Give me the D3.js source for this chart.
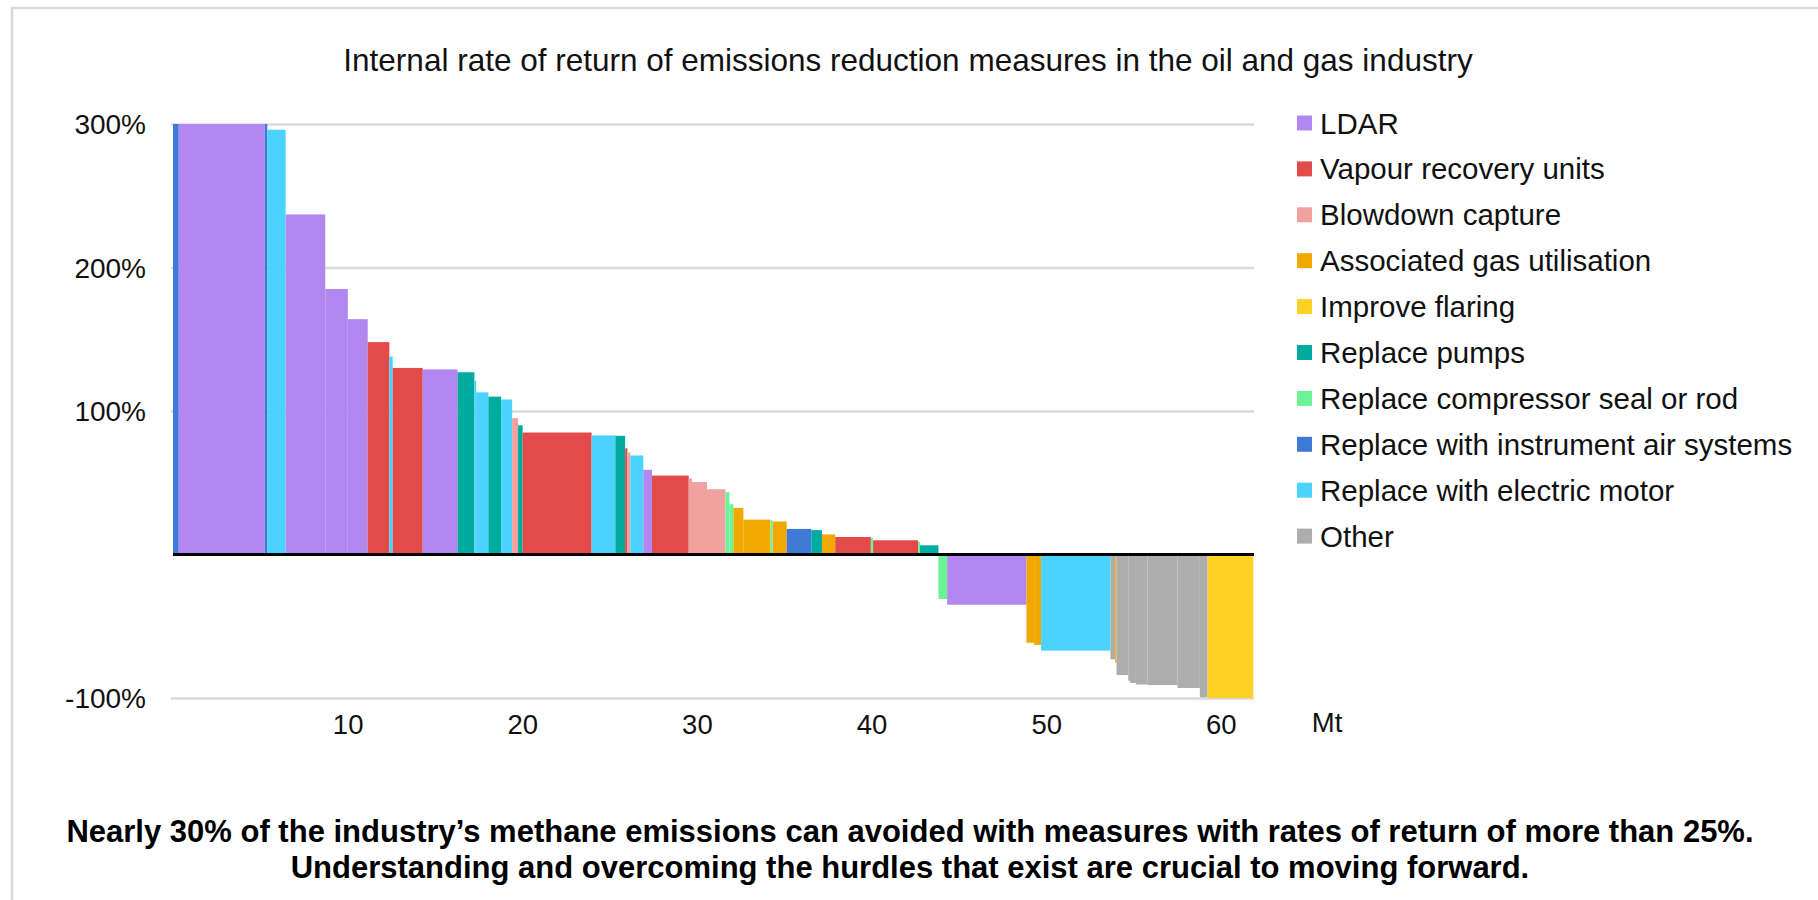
<!DOCTYPE html>
<html>
<head>
<meta charset="utf-8">
<script src="https://cdn.jsdelivr.net/npm/d3@7"></script>
<style>
  body { margin: 0; background: #fff; }
  svg { display: block; font-family: "Liberation Sans", Arial, sans-serif; }
</style>
</head>
<body>
<svg id="chart"></svg>
<script>
const categories = [
  "LDAR",
  "Vapour recovery units",
  "Blowdown capture",
  "Associated gas utilisation",
  "Improve flaring",
  "Replace pumps",
  "Replace compressor seal or rod",
  "Replace with instrument air systems",
  "Replace with electric motor",
  "Other"
];
const colors = ["#b287ef", "#e34a4a", "#f1a19f", "#f1a800", "#fdd225", "#00aba0", "#6cf395", "#3f7bd6", "#4ad3fe", "#adadad"];

// measure category (index into categories), abatement in Mt, internal rate of return in %
const measureCat = [7, 0, 7, 8, 0, 0, 0, 1, 8, 1, 0, 5, 8, 8, 5, 8, 2, 5, 1, 8,
  5, 1, 2, 8, 0, 1, 2, 2, 2, 6, 6, 3, 3, 6, 3, 7, 5, 3, 1, 6,
  1, 6, 5, 6, 0, 3, 3, 8, 9, 3, 9, 9, 9, 9, 9, 9, 9, 4];
const measureMt = [0.33, 4.92, 0.15, 1.05, 2.27, 1.29, 1.14, 1.24, 0.19, 1.72, 2.0, 0.96, 0.1, 0.70, 0.73, 0.63, 0.34, 0.26, 3.95, 1.36,
  0.56, 0.13, 0.17, 0.74, 0.50, 2.10, 0.19, 0.86, 1.05, 0.23, 0.23, 0.57, 1.55, 0.13, 0.80, 1.41, 0.61, 0.76, 2.04, 0.13,
  2.58, 0.1, 1.06, 0.50, 4.54, 0.44, 0.40, 3.97, 0.27, 0.08, 0.67, 0.1, 0.34, 0.66, 1.72, 1.28, 0.44, 2.62];
const measureIrr = [300, 300, 300, 296, 237, 185, 164, 148, 138, 130, 129, 127, 121, 113, 110, 108, 95, 90, 85, 83,
  82.7, 74, 71, 69, 59, 55, 53, 50.5, 45.5, 43.5, 35, 32.5, 24.3, 23.8, 23, 17.8, 17, 14, 12.2, 11.5,
  9.9, 8.9, 6.4, -31, -35, -61.5, -63, -67, -73, -75.5, -84, -88, -89.5, -90.6, -91, -93, -99.5, -100];

const yTicks = [300, 200, 100, -100];
const xTicks = [10, 20, 30, 40, 50, 60];

const width = 1818;
const height = 900;
const plotLeft = 173, plotRight = 1254, plotTop = 124, plotBottom = 698;

const svg = d3.select("#chart")
  .attr("width", width)
  .attr("height", height);

// frame
svg.append("path")
  .attr("d", `M12,${height} L12,8 L${width},8`)
  .attr("fill", "none")
  .attr("stroke", "#d9d9d9")
  .attr("stroke-width", 2.5);

const xScale = d3.scaleLinear()
  .domain([0, 61.9])
  .range([plotLeft, plotRight]);

const yScale = d3.scaleLinear()
  .domain([-100, 300])
  .range([plotBottom, plotTop]);

// build stepped bars from cumulative abatement
let acc = 0;
const bars = measureMt.map((w, i) => {
  const d = { x0: acc, x1: acc + w, v: measureIrr[i], c: measureCat[i] };
  acc += w;
  return d;
});

svg.append("text")
  .attr("x", 908)
  .attr("y", 60)
  .attr("text-anchor", "middle")
  .attr("dominant-baseline", "central")
  .style("font-size", "31.5px")
  .attr("fill", "#111")
  .text("Internal rate of return of emissions reduction measures in the oil and gas industry");

const yAxis = d3.axisLeft(yScale)
  .tickValues(yTicks)
  .tickSize(-(plotRight - plotLeft))
  .tickFormat(d => d + "%");

const gy = svg.append("g")
  .attr("transform", `translate(${plotLeft}, 0)`)
  .call(yAxis);
gy.select(".domain").remove();
gy.selectAll(".tick line")
  .attr("stroke", "#d9d9d9")
  .attr("stroke-width", 2.5)
  .attr("x1", -2);
gy.selectAll(".tick text")
  .attr("x", -27)
  .attr("dy", null)
  .attr("dominant-baseline", "central")
  .attr("fill", "#111")
  .style("font-size", "28px")
  .style("font-family", "'Liberation Sans', Arial, sans-serif");

svg.append("g")
  .selectAll("rect")
  .data(bars)
  .enter()
  .append("rect")
  .attr("x", d => xScale(d.x0))
  .attr("width", d => xScale(d.x1) - xScale(d.x0))
  .attr("y", d => yScale(Math.max(0, d.v)))
  .attr("height", d => Math.abs(yScale(d.v) - yScale(0)))
  .attr("fill", d => colors[d.c]);

svg.append("line")
  .attr("x1", plotLeft)
  .attr("x2", plotRight)
  .attr("y1", yScale(0))
  .attr("y2", yScale(0))
  .attr("stroke", "#000")
  .attr("stroke-width", 3);

const xAxis = d3.axisBottom(xScale)
  .tickValues(xTicks)
  .tickSize(0)
  .tickPadding(0);

const gx = svg.append("g")
  .attr("transform", `translate(0, 724)`)
  .call(xAxis);
gx.select(".domain").remove();
gx.selectAll(".tick text")
  .attr("y", 0)
  .attr("dy", null)
  .attr("dominant-baseline", "central")
  .attr("fill", "#111")
  .style("font-size", "27.5px")
  .style("font-family", "'Liberation Sans', Arial, sans-serif");

svg.append("text")
  .attr("x", 1327)
  .attr("y", 722)
  .attr("text-anchor", "middle")
  .attr("dominant-baseline", "central")
  .style("font-size", "27.5px")
  .attr("fill", "#111")
  .text("Mt");

// legend
const legend = svg.append("g")
  .selectAll("g")
  .data(categories)
  .enter()
  .append("g")
  .attr("transform", (d, i) => `translate(1297, ${123 + i * 45.9})`);

legend.append("rect")
  .attr("y", -7.5)
  .attr("width", 15)
  .attr("height", 15)
  .attr("fill", (d, i) => colors[i]);

legend.append("text")
  .attr("x", 23)
  .attr("dominant-baseline", "central")
  .style("font-size", "29.5px")
  .attr("fill", "#111")
  .text(d => d);

const notes = [
  "Nearly 30% of the industry\u2019s methane emissions can avoided with measures with rates of return of more than 25%.",
  "Understanding and overcoming the hurdles that exist are crucial to moving forward."
];

svg.append("g")
  .selectAll("text")
  .data(notes)
  .enter()
  .append("text")
  .attr("x", 910)
  .attr("y", (d, i) => 831 + i * 36.5)
  .attr("text-anchor", "middle")
  .attr("dominant-baseline", "central")
  .style("font-size", "31px")
  .style("font-weight", "bold")
  .attr("fill", "#000")
  .text(d => d);
</script>
</body>
</html>
